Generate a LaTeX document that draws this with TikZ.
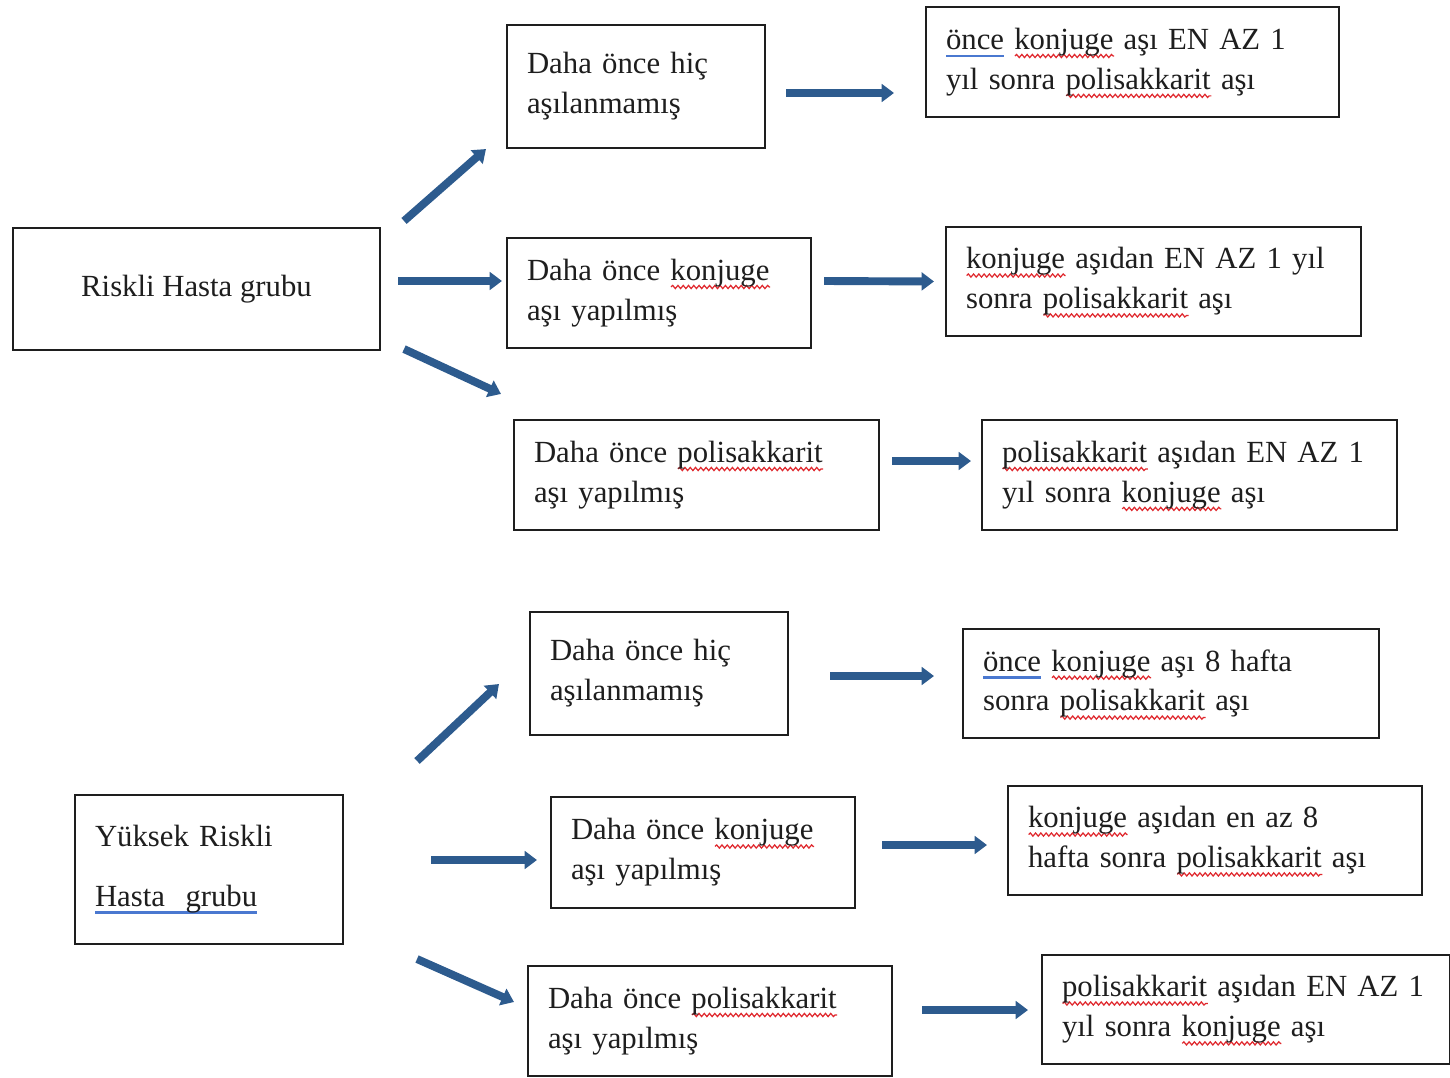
\documentclass[tikz,border=0pt]{standalone}
\usepackage{fontspec}
\setmainfont{Liberation Serif}
\usepackage{xcolor}
\usepackage{tikz}
\usetikzlibrary{calc,arrows.meta,decorations.pathmorphing}
\definecolor{ink}{HTML}{1E1E1E}
\definecolor{arrblue}{HTML}{2D5B8E}
\definecolor{spellred}{HTML}{E0282E}
\definecolor{gramblue}{HTML}{4A78D0}
\newsavebox\wordbox
\newcommand\spell[1]{\leavevmode\sbox\wordbox{#1}\rlap{\smash{\raisebox{-5pt}{\tikz\draw[spellred, line width=0.7pt,
  decorate, decoration={snake, amplitude=0.9pt, segment length=3pt}] (0pt,0pt) -- (\wd\wordbox,0pt);}}}\usebox\wordbox}
\newcommand\gram[1]{\leavevmode\sbox\wordbox{#1}\rlap{\textcolor{gramblue}{\rule[-4.5pt]{\wd\wordbox}{1.6pt}}}\usebox\wordbox}
\tikzset{
  box/.style={draw=ink, line width=1.2pt, fill=white, align=left, inner xsep=0.4cm,
    text=ink, font=\fontsize{17.5}{22.7}\selectfont},
  boxc/.style={box, align=center},
  arr/.style={draw=arrblue, line width=4.5pt, -{Triangle[length=7pt,width=10pt]}}
}
\begin{document}
\begin{tikzpicture}[x=0.02cm, y=-0.02cm]
  \useasboundingbox (0,0) rectangle (1450,1078);
  % Riskli hasta grubu
  \node[boxc, minimum width=7.34cm, minimum height=2.44cm] (r1) at (196.5,289) {Riskli Hasta grubu};
  \node[box, minimum width=5.16cm, minimum height=2.46cm, text width=4.36cm] (h1) at (636,86.5)
    {Daha önce hiç\\ aşılanmamış};
  \node[box, minimum width=8.26cm, minimum height=2.2cm, text width=7.46cm] (s1) at (1132.5,62)
    {\gram{önce} \spell{konjuge} aşı EN AZ 1\\ yıl sonra \spell{polisakkarit} aşı};
  \node[box, minimum width=6.08cm, minimum height=2.2cm, text width=5.28cm] (k1) at (659,293)
    {Daha önce \spell{konjuge}\\ aşı yapılmış};
  \node[box, minimum width=8.3cm, minimum height=2.18cm, text width=7.5cm] (s2) at (1153.5,281.5)
    {\spell{konjuge} aşıdan EN AZ 1 yıl\\ sonra \spell{polisakkarit} aşı};
  \node[box, minimum width=7.3cm, minimum height=2.2cm, text width=6.5cm] (p1) at (696.5,475)
    {Daha önce \spell{polisakkarit}\\ aşı yapılmış};
  \node[box, minimum width=8.3cm, minimum height=2.2cm, text width=7.5cm] (s3) at (1189.5,475)
    {\spell{polisakkarit} aşıdan EN AZ 1\\ yıl sonra \spell{konjuge} aşı};
  % Yuksek riskli hasta grubu
  \node[box, minimum width=5.36cm, minimum height=2.98cm, text width=4.56cm,
    font=\fontsize{17.5}{34}\selectfont] (r2) at (209,869.5)
    {Yüksek Riskli\\ \gram{Hasta\ \ grubu}};
  \node[box, minimum width=5.16cm, minimum height=2.46cm, text width=4.36cm] (h2) at (659,673.5)
    {Daha önce hiç\\ aşılanmamış};
  \node[box, minimum width=8.32cm, minimum height=2.18cm, text width=7.52cm] (s4) at (1171,683.5)
    {\gram{önce} \spell{konjuge} aşı 8 hafta\\ sonra \spell{polisakkarit} aşı};
  \node[box, minimum width=6.08cm, minimum height=2.22cm, text width=5.28cm] (k2) at (703,852.5)
    {Daha önce \spell{konjuge}\\ aşı yapılmış};
  \node[box, minimum width=8.28cm, minimum height=2.18cm, text width=7.48cm] (s5) at (1215,840.5)
    {\spell{konjuge} aşıdan en az 8\\ hafta sonra \spell{polisakkarit} aşı};
  \node[box, minimum width=7.28cm, minimum height=2.2cm, text width=6.48cm] (p2) at (710,1021)
    {Daha önce \spell{polisakkarit}\\ aşı yapılmış};
  \node[box, minimum width=8.16cm, minimum height=2.18cm, text width=7.36cm] (s6) at (1246,1009.5)
    {\spell{polisakkarit} aşıdan EN AZ 1\\ yıl sonra \spell{konjuge} aşı};
  % arrows
  \draw[arr] ($(r1.north east)+(23,-6)$) -- ($(h1.south west)+(-20,0)$);
  \draw[arr] ($(r1.east)+(17,-8)$) -- ($(k1.west)+(-4,-12)$);
  \draw[arr] ($(r1.south east)+(23,-2)$) -- ($(p1.north west)+(-12,-25)$);
  \draw[arr] ($(h1.east)+(20,6.5)$) -- ($(s1.west)+(-31,31)$);
  \draw[arr] ($(k1.east)+(12,-12)$) -- ($(s2.west)+(-11,0)$);
  \draw[arr] ($(p1.east)+(12,-14)$) -- ($(s3.west)+(-10,-14)$);
  \draw[arr] ($(r2.north east)+(73,-33)$) -- ($(h2.west)+(-30,10.5)$);
  \draw[arr] ($(r2.east)+(87,-9.5)$) -- ($(k2.west)+(-13,7.5)$);
  \draw[arr] ($(r2.south east)+(73,14)$) -- ($(p2.west)+(-13,-19)$);
  \draw[arr] ($(h2.east)+(41,2.5)$) -- ($(s4.west)+(-28,-7.5)$);
  \draw[arr] ($(k2.east)+(26,-7.5)$) -- ($(s5.west)+(-20,4.5)$);
  \draw[arr] ($(p2.east)+(29,-11)$) -- ($(s6.west)+(-13,0.5)$);
\end{tikzpicture}
\end{document}
